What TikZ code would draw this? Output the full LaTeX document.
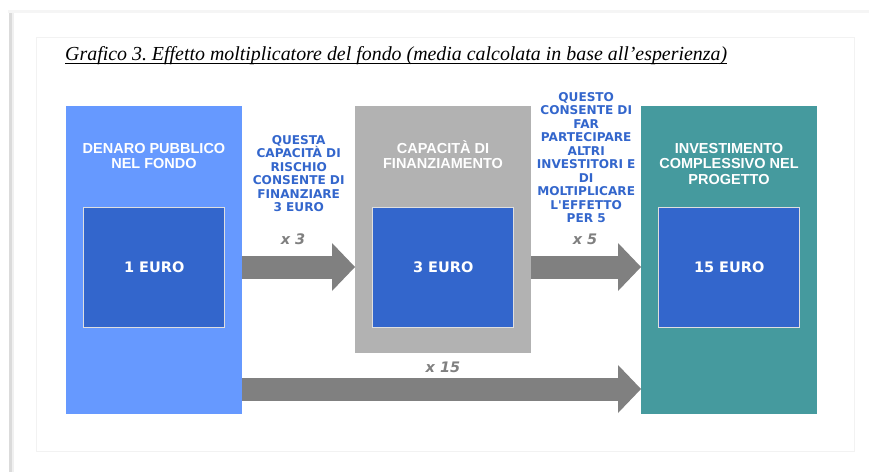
\documentclass[tikz,border=0pt]{standalone}
\usepackage{fontspec}
\setmainfont{Liberation Serif}
\newfontfamily\arialfont{Liberation Sans}
\newfontfamily\verdanafont{DejaVu Sans}
\usetikzlibrary{arrows.meta,calc,positioning}
\definecolor{fondoblue}{HTML}{6699FF}
\definecolor{euroblue}{HTML}{3366CC}
\definecolor{capgray}{HTML}{B2B2B2}
\definecolor{progteal}{HTML}{459A9E}
\definecolor{arrowgray}{HTML}{808080}
\frenchspacing

\begin{document}
\begin{tikzpicture}[x=1pt,y=1pt]
    \tikzstyle{column}=[anchor=north west, minimum width=176pt, minimum height=308pt, inner sep=0pt]
    \tikzstyle{euro}=[draw=gray!25, line width=1pt, fill=euroblue, minimum width=141pt, minimum height=120pt, text=white, font=\verdanafont\bfseries\fontsize{14.5}{17}\selectfont]
    \tikzstyle{heading}=[anchor=north, inner sep=0pt, align=center, text=white, font=\arialfont\bfseries\fontsize{14.5}{15.6}\selectfont]
    \tikzstyle{note}=[anchor=north, inner sep=0pt, align=center, text=euroblue, font=\verdanafont\bfseries\fontsize{12.1}{13.5}\selectfont]
    \tikzstyle{factor}=[inner sep=0pt, text=arrowgray, font=\verdanafont\bfseries\itshape\fontsize{14.5}{17}\selectfont]
    \tikzstyle{flow}=[draw=arrowgray, line width=23pt, -{Triangle[length=23pt,width=48pt,line width=0pt]}]

    \useasboundingbox (0,0) rectangle (869,472);

    % page and frame
    \fill[gray!8] (8,459) rectangle (869,462);
    \fill[gray!28] (9,0) rectangle (12,459);
    \fill[gray!12] (12,0) rectangle (14,459);
    \draw[gray!10, line width=1pt] (36,21) rectangle (854,434);

    \node[anchor=base west, inner sep=0pt, font=\itshape\fontsize{19.9}{22}\selectfont] (titolo) at (65,411)
        {Grafico 3. Effetto moltiplicatore del fondo (media calcolata in base all’esperienza)};
    \draw[line width=0.8pt] ([yshift=-2.8pt]titolo.base west) -- ([yshift=-2.8pt]titolo.base east);

    % the three columns
    \node[column, fill=fondoblue] (denaro) at (66,366) {};
    \node[column, fill=capgray, minimum height=247pt] (capacita) at (355,366) {};
    \node[column, fill=progteal] (investimento) at (641,366) {};

    \node[heading] (denarotitle) at (154,329) {DENARO PUBBLICO\\NEL FONDO};
    \node[heading] (capacitatitle) at (443,332) {CAPACITÀ DI\\FINANZIAMENTO};
    \node[heading] (investimentotitle) at (729,329) {INVESTIMENTO\\COMPLESSIVO NEL\\PROGETTO};

    \node[euro] (uno) at (denaro.center |- 0,205) {1 EURO};
    \node[euro] (tre) at (capacita.center |- 0,205) {3 EURO};
    \node[euro] (quindici) at (investimento.center |- 0,205) {15 EURO};

    % arrows
    \coordinate (bottomrow) at (0,83);
    \draw[flow] (denaro.east |- uno.center) -- (capacita.west |- uno.center);
    \draw[flow] (capacita.east |- tre.center) -- (investimento.west |- tre.center);
    \draw[flow] (denaro.east |- bottomrow) -- (investimento.west |- bottomrow);

    \node[factor] (per3) at (293,233) {x 3};
    \node[factor] (per5) at (585,233) {x 5};
    \node[factor] (per15) at (443,105) {x 15};

    \coordinate (gap1) at ($(denaro.east)!0.5!(capacita.west)$);
    \coordinate (gap2) at ($(capacita.east)!0.5!(investimento.west)$);
    \node[note] (nota1) at (gap1 |- 0,337)
        {QUESTA\\CAPACITÀ DI\\RISCHIO\\CONSENTE DI\\FINANZIARE\\3 EURO};
    \node[note] (nota2) at (gap2 |- 0,380)
        {QUESTO\\CONSENTE DI\\FAR\\PARTECIPARE\\ALTRI\\INVESTITORI E\\DI\\MOLTIPLICARE\\L\textquotesingle EFFETTO\\PER 5};
\end{tikzpicture}
\end{document}
